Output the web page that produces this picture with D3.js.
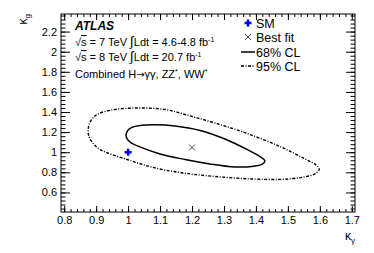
<!DOCTYPE html>
<html>
<head>
<meta charset="utf-8">
<script src="https://cdn.jsdelivr.net/npm/d3@7"></script>
<style>
  body { margin: 0; background: #fff; }
  text { font-family: "Liberation Sans", Arial, Helvetica, sans-serif; }
</style>
</head>
<body>
<div id="chart"></div>
<script>
// tick labels
var xTickValues = [0.8, 0.9, 1.0, 1.1, 1.2, 1.3, 1.4, 1.5, 1.6, 1.7];
var yTickValues = [0.6, 0.8, 1.0, 1.2, 1.4, 1.6, 1.8, 2.0, 2.2];

// contours as [kappa_gamma, kappa_g]
var cl68 = [
  [0.994, 1.152], [0.998, 1.212], [1.012, 1.247], [1.037, 1.266], [1.084, 1.273],
  [1.147, 1.261], [1.225, 1.217], [1.303, 1.132], [1.375, 1.023], [1.412, 0.958],
  [1.428, 0.914], [1.419, 0.879], [1.387, 0.859], [1.334, 0.854], [1.256, 0.884],
  [1.178, 0.928], [1.100, 0.983], [1.037, 1.053], [1.006, 1.102]
];
var cl95 = [
  [0.875, 1.222], [0.881, 1.300], [0.900, 1.370], [0.945, 1.418], [1.031, 1.440],
  [1.116, 1.425], [1.194, 1.361], [1.272, 1.291], [1.372, 1.187], [1.478, 1.053],
  [1.553, 0.934], [1.588, 0.874], [1.598, 0.829], [1.584, 0.784], [1.544, 0.750],
  [1.475, 0.730], [1.381, 0.735], [1.272, 0.759], [1.172, 0.794], [1.084, 0.844],
  [0.997, 0.928], [0.912, 1.028], [0.887, 1.102], [0.877, 1.162]
];
var smPoint = [1.0, 1.0];
var bestFit = [1.2, 1.047];

var legendLabels = ["SM", "Best fit", "68% CL", "95% CL"];

var WIDTH = 374;
var HEIGHT = 253;
var LEFT = 61, RIGHT = 355, TOP = 14, BOTTOM = 212;
var FONT = 11;

var svg = d3.select("#chart")
  .append("svg")
  .attr("width", WIDTH)
  .attr("height", HEIGHT);

var x = d3.scaleLinear().domain([0.79, 1.71]).range([LEFT, RIGHT]);
var y = d3.scaleLinear().domain([0.4055, 2.375]).range([BOTTOM, TOP]);

var xMinor = d3.range(0, 46).map(function(i) { return 0.8 + i * 0.02; });
var yMinor = d3.range(0, 49).map(function(i) { return 0.44 + i * 0.04; });

var styleAxis = function(g) {
  g.select(".domain").remove();
  g.selectAll("line").attr("stroke", "#000").attr("stroke-width", 1);
  g.selectAll("text")
    .attr("fill", "#000")
    .style("font-size", FONT + "px");
};

var fmt = function(d) { return d3.format("~g")(d); };

// bottom
svg.append("g").attr("transform", "translate(0," + BOTTOM + ")")
  .call(d3.axisBottom(x).tickValues(xTickValues).tickSize(-6).tickPadding(4).tickFormat(fmt))
  .call(styleAxis);
svg.append("g").attr("transform", "translate(0," + BOTTOM + ")")
  .call(d3.axisBottom(x).tickValues(xMinor).tickSize(-3).tickFormat(""))
  .call(styleAxis);
// top
svg.append("g").attr("transform", "translate(0," + TOP + ")")
  .call(d3.axisTop(x).tickValues(xTickValues).tickSize(-6).tickFormat(""))
  .call(styleAxis);
svg.append("g").attr("transform", "translate(0," + TOP + ")")
  .call(d3.axisTop(x).tickValues(xMinor).tickSize(-3).tickFormat(""))
  .call(styleAxis);
// left
svg.append("g").attr("transform", "translate(" + LEFT + ",0)")
  .call(d3.axisLeft(y).tickValues(yTickValues).tickSize(-9).tickPadding(4).tickFormat(fmt))
  .call(styleAxis);
svg.append("g").attr("transform", "translate(" + LEFT + ",0)")
  .call(d3.axisLeft(y).tickValues(yMinor).tickSize(-4.5).tickFormat(""))
  .call(styleAxis);
// right
svg.append("g").attr("transform", "translate(" + RIGHT + ",0)")
  .call(d3.axisRight(y).tickValues(yTickValues).tickSize(-9).tickFormat(""))
  .call(styleAxis);
svg.append("g").attr("transform", "translate(" + RIGHT + ",0)")
  .call(d3.axisRight(y).tickValues(yMinor).tickSize(-4.5).tickFormat(""))
  .call(styleAxis);

// frame
svg.append("rect")
  .attr("x", LEFT).attr("y", TOP)
  .attr("width", RIGHT - LEFT).attr("height", BOTTOM - TOP)
  .attr("fill", "none").attr("stroke", "#000").attr("stroke-width", 1);

// axis titles
var xt = svg.append("text")
  .attr("x", RIGHT).attr("y", 240)
  .attr("text-anchor", "end")
  .style("font-size", "12px");
xt.append("tspan").text("κ");
xt.append("tspan").attr("dy", 3).style("font-size", "8px").text("γ");

var yt = svg.append("text")
  .attr("transform", "translate(27," + TOP + ") rotate(-90)")
  .attr("text-anchor", "end")
  .style("font-size", "12px");
yt.append("tspan").text("κ");
yt.append("tspan").attr("dy", 3).style("font-size", "8px").text("g");

// contours
var line = d3.line()
  .x(function(d) { return x(d[0]); })
  .y(function(d) { return y(d[1]); })
  .curve(d3.curveCatmullRomClosed.alpha(0.5));

svg.append("path")
  .attr("d", line(cl95))
  .attr("fill", "none")
  .attr("stroke", "#000")
  .attr("stroke-width", 1.4)
  .attr("stroke-dasharray", "3,1.5,1,1.5");

svg.append("path")
  .attr("d", line(cl68))
  .attr("fill", "none")
  .attr("stroke", "#000")
  .attr("stroke-width", 1.5);

// markers
var drawPlus = function(cx, cy) {
  svg.append("path")
    .attr("d", "M" + (cx - 3.5) + "," + cy + "h7M" + cx + "," + (cy - 3.5) + "v7")
    .attr("stroke", "#0000ff")
    .attr("stroke-width", 2.5);
};
var drawCross = function(cx, cy) {
  svg.append("path")
    .attr("d", "M" + (cx - 3) + "," + (cy - 3) + "l6,6M" + (cx - 3) + "," + (cy + 3) + "l6,-6")
    .attr("stroke", "#333")
    .attr("stroke-width", 0.9);
};

drawPlus(x(smPoint[0]), y(smPoint[1]));
drawCross(x(bestFit[0]), y(bestFit[1]));

// ATLAS label block
svg.append("text")
  .attr("x", 75).attr("y", 30)
  .style("font-size", "12px")
  .style("font-weight", "bold")
  .style("font-style", "italic")
  .text("ATLAS");

var lumiLine = function(yPos, energy, lumi) {
  var t = svg.append("text")
    .attr("x", 75).attr("y", yPos)
    .style("font-size", "11px");
  t.append("tspan").text("√");
  t.append("tspan").style("text-decoration", "overline").text("s");
  t.append("tspan").text(" = " + energy + " TeV ");
  t.append("tspan").style("font-size", "13.5px").text("∫");
  t.append("tspan").text("Ldt = " + lumi + " fb");
  t.append("tspan").attr("dy", -4).style("font-size", "7px").text("-1");
};
lumiLine(46, 7, "4.6-4.8");
lumiLine(61, 8, "20.7");

var comb = svg.append("text")
  .attr("x", 75).attr("y", 78)
  .style("font-size", "11px");
comb.append("tspan").text("Combined H");
comb.append("tspan").style("font-family", "DejaVu Sans").style("font-size", "10px").text("→");
comb.append("tspan").text("γγ, ZZ");
comb.append("tspan").attr("dy", -4).style("font-size", "7px").text("*");
comb.append("tspan").attr("dy", 4).text(", WW");
comb.append("tspan").attr("dy", -4).style("font-size", "7px").text("*");

// legend
var legY = [23, 37, 52, 66];
var legX = 248;
drawPlus(legX, legY[0]);
drawCross(legX, legY[1]);
svg.append("line")
  .attr("x1", legX - 7).attr("x2", legX + 7)
  .attr("y1", legY[2]).attr("y2", legY[2])
  .attr("stroke", "#000").attr("stroke-width", 1.5);
svg.append("line")
  .attr("x1", legX - 7).attr("x2", legX + 7)
  .attr("y1", legY[3]).attr("y2", legY[3])
  .attr("stroke", "#000").attr("stroke-width", 1.4)
  .attr("stroke-dasharray", "3,1.5,1,1.5");

svg.selectAll(".leg")
  .data(legendLabels)
  .enter()
  .append("text")
  .attr("class", "leg")
  .attr("x", legX + 8)
  .attr("y", function(d, i) { return legY[i] + 4.5; })
  .style("font-size", "12.5px")
  .text(function(d) { return d; });
</script>
</body>
</html>
